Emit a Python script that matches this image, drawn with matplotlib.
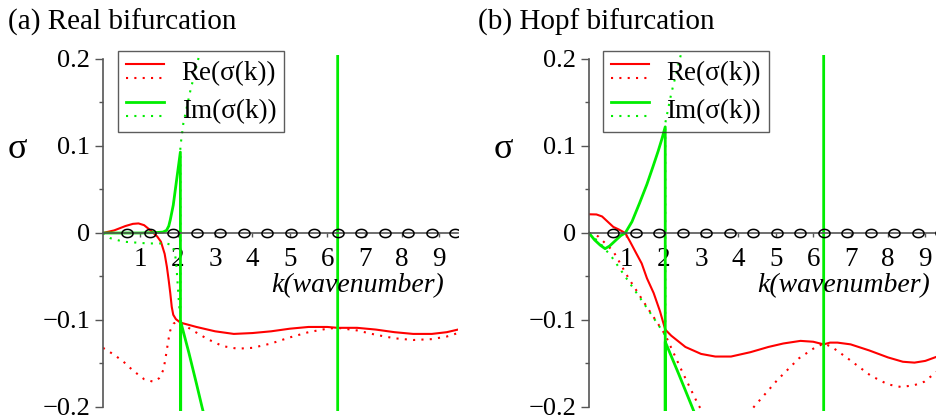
import numpy as np
import matplotlib
matplotlib.use("Agg")
import matplotlib.pyplot as plt
from matplotlib.lines import Line2D
from matplotlib.path import Path
from matplotlib.legend_handler import HandlerBase

plt.rcParams['font.family'] = ['Liberation Serif', 'DejaVu Serif']

# ---- data ----
# zero crossings marked with circles along k axis
k_circles = [0.63, 1.26, 1.88, 2.51, 3.14, 3.77, 4.40, 5.03, 5.65, 6.28,
             6.91, 7.54, 8.17, 8.80, 9.42]

# (a) real bifurcation
a_re_k = [0.0, 0.3, 0.6, 0.8, 0.95, 1.1, 1.3, 1.45, 1.55, 1.65, 1.71, 1.76,
          1.8, 1.84, 1.88, 1.95, 2.07, 2.5, 3.0, 3.5, 4.0, 4.5, 5.0, 5.5, 6.0,
          6.28, 6.8, 7.3, 7.8, 8.3, 8.8, 9.2, 9.5]
a_re = [0.0, 0.003, 0.008, 0.0105, 0.011, 0.009, 0.002, -0.004, -0.010,
        -0.024, -0.039, -0.055, -0.069, -0.085, -0.094, -0.099, -0.103,
        -0.108, -0.113, -0.116, -0.115, -0.113, -0.110, -0.108, -0.108,
        -0.109, -0.109, -0.111, -0.114, -0.116, -0.116, -0.114, -0.111]

a_re2_k = [0.0, 0.3, 0.55, 0.8, 1.1, 1.35, 1.5, 1.62, 1.68, 1.75, 1.8, 1.89,
           1.95, 2.07, 2.4, 2.8, 3.2, 3.6, 4.0, 4.5, 5.0, 5.5, 6.0, 6.28, 6.8,
           7.3, 7.8, 8.3, 8.8, 9.2, 9.5]
a_re2 = [-0.132, -0.140, -0.148, -0.158, -0.168, -0.171, -0.167, -0.157,
         -0.142, -0.123, -0.112, -0.104, -0.103, -0.103, -0.112, -0.122,
         -0.130, -0.133, -0.132, -0.127, -0.120, -0.114, -0.110, -0.109,
         -0.112, -0.117, -0.121, -0.123, -0.122, -0.119, -0.115]

a_im_k = [0.0, 0.5, 1.0, 1.4, 1.6, 1.7, 1.76, 1.8, 1.88, 1.97, 2.07, 2.08,
          2.08, 2.3, 2.5, 2.65, 3.0, 4.0, 5.0, 6.28, 6.28, 7.0, 8.0, 9.5]
a_im = [0.0, 0.0, 0.0, 0.0005, 0.001, 0.003, 0.008, 0.015, 0.032, 0.061,
        0.093, -0.5, -0.102, -0.138, -0.173, -0.200, -0.26, -0.43, -0.60,
        -0.82, 0.90, 1.0, 1.1, 1.2]

a_im2_k = [0.0, 0.2, 0.55, 1.2, 1.7, 1.85, 1.92, 1.96, 2.0, 2.04, 2.07, 2.07,
           2.15, 2.34, 2.55, 2.7]
a_im2 = [0.0, -0.006, -0.010, -0.012, -0.012, -0.014, -0.022, -0.035, -0.060,
         -0.085, -0.09, 0.099, 0.126, 0.164, 0.200, 0.230]

# (b) Hopf bifurcation
b_re_k = [0.0, 0.2, 0.35, 0.5, 0.65, 0.8, 0.97, 1.1, 1.26, 1.41, 1.55, 1.73,
          1.9, 2.04, 2.2, 2.58, 3.0, 3.38, 3.8, 4.32, 4.8, 5.2, 5.66, 6.0,
          6.28, 6.45, 6.65, 7.0, 7.5, 8.0, 8.4, 8.71, 9.0, 9.32, 9.5]
b_re = [0.0215, 0.0213, 0.019, 0.013, 0.007, 0.004, 0.0, -0.010, -0.023,
        -0.035, -0.052, -0.069, -0.090, -0.111, -0.118, -0.131, -0.139,
        -0.142, -0.142, -0.137, -0.131, -0.127, -0.124, -0.125, -0.128,
        -0.126, -0.126, -0.128, -0.135, -0.143, -0.148, -0.149, -0.147,
        -0.142, -0.138]

b_re2_k = [0.0, 0.25, 0.65, 1.06, 1.55, 2.04, 2.49, 2.93, 3.3, 3.7, 4.1, 4.41,
           5.04, 5.62, 6.0, 6.28, 6.5, 6.92, 7.54, 8.0, 8.35, 8.7, 8.97, 9.32,
           9.5]
b_re2 = [0.0, -0.004, -0.021, -0.052, -0.085, -0.117, -0.159, -0.198, -0.222,
         -0.228, -0.218, -0.200, -0.169, -0.144, -0.133, -0.127, -0.131,
         -0.144, -0.164, -0.174, -0.177, -0.175, -0.171, -0.159, -0.152]

b_im_k = [0.0, 0.15, 0.3, 0.43, 0.55, 0.7, 0.85, 0.97, 1.15, 1.35, 1.55,
          1.71, 1.85, 1.95, 2.04, 2.04, 2.04, 2.4, 2.76, 3.5, 6.28, 6.28, 9.5]
b_im = [0.0, -0.008, -0.014, -0.018, -0.015, -0.009, -0.003, 0.0, 0.013,
        0.034, 0.056, 0.076, 0.094, 0.108, 0.122, -0.5, -0.125, -0.162,
        -0.200, -0.28, -0.57, 0.60, 0.90]

b_im2_k = [0.0, 0.3, 0.6, 1.0, 1.5, 2.0, 2.04, 2.04, 2.2, 2.43, 2.6]
b_im2 = [0.0, -0.012, -0.027, -0.052, -0.083, -0.115, -0.118, 0.126, 0.160,
         0.200, 0.230]

RED = '#ff0000'
GREEN = '#00ee00'
AXIS_GRAY = '#555555'
DOTS = (0, (1, 3))


class StackedLines(HandlerBase):
    """Legend handle: solid line above the dotted one."""
    def create_artists(self, legend, orig_handle, xdescent, ydescent,
                       width, height, fontsize, trans):
        out = []
        for h, frac in zip(orig_handle, (0.8, 0.2)):
            y = -ydescent + frac * height
            ln = Line2D([-xdescent, -xdescent + width], [y, y])
            ln.update_from(h)
            ln.set_transform(trans)
            out.append(ln)
        return out


# slightly flattened circle marker like the original
t = np.linspace(0, 2 * np.pi, 41)
ellipse = Path(np.column_stack([1.35 * np.cos(t), np.sin(t)]))


def draw_panel(ax, re_k, re, re2_k, re2, im_k, im, im2_k, im2, leg_x):
    ax.set_xlim(0, 9.5)
    ax.set_ylim(-0.205, 0.205)

    l1, = ax.plot(re_k, re, color=RED, lw=1.5)
    l2, = ax.plot(re2_k, re2, color=RED, lw=1.5, linestyle=DOTS)
    l3, = ax.plot(im_k, im, color=GREEN, lw=2.0)
    l4, = ax.plot(im2_k, im2, color=GREEN, lw=1.5, linestyle=DOTS)
    ax.plot(k_circles, [0] * len(k_circles), linestyle='none', marker=ellipse,
            ms=8, mfc='none', mec='black', mew=1.1, zorder=5)

    # maple style axes: y axis at k=0, k axis through sigma=0
    for s in ('top', 'right'):
        ax.spines[s].set_visible(False)
    ax.spines['bottom'].set_position(('data', 0))
    ax.spines['left'].set_bounds(-0.2, 0.2)
    for s in ('left', 'bottom'):
        ax.spines[s].set_color(AXIS_GRAY)
        ax.spines[s].set_linewidth(1.2)

    ax.set_yticks([-0.2, -0.1, 0, 0.1, 0.2])
    ax.set_yticklabels(['\u22120.2', '\u22120.1', '0', '0.1', '0.2'])
    ax.set_yticks([-0.15, -0.05, 0.05, 0.15], minor=True)
    ax.set_xticks(range(1, 10))
    ax.tick_params(axis='y', which='major', length=6, width=1, pad=3,
                   color=AXIS_GRAY, labelsize=19)
    ax.tick_params(axis='y', which='minor', length=3, width=1, color=AXIS_GRAY)
    ax.tick_params(axis='x', which='major', length=3, width=1, pad=7,
                   color=AXIS_GRAY, labelsize=19.5)
    ax.set_facecolor('none')

    ax.text(9.13, -0.061, 'k(wavenumber)', fontsize=20, style='italic',
            ha='right', va='center')

    leg = ax.legend(handles=[(l1, l2), (l3, l4)],
                    labels=['Re(\u03c3(k))', 'Im(\u03c3(k))'],
                    handler_map={tuple: StackedLines()},
                    loc='upper left', bbox_to_anchor=(leg_x, 1.01),
                    borderaxespad=0, fontsize=19.5, handlelength=1.4,
                    handleheight=0.95, handletextpad=0.65, labelspacing=0.4,
                    borderpad=0.3, fancybox=False)
    leg.get_frame().set_facecolor('none')
    leg.get_frame().set_edgecolor('#333333')
    leg.get_frame().set_linewidth(1.0)


fig = plt.figure(figsize=(9.36, 4.2), dpi=100)
bottom, height = 0.0206, 0.8493
ax1 = fig.add_axes([103 / 936, bottom, 355 / 936, height])
ax2 = fig.add_axes([589 / 936, bottom, 355 / 936, height])

draw_panel(ax1, a_re_k, a_re, a_re2_k, a_re2, a_im_k, a_im, a_im2_k, a_im2, 0.042)
draw_panel(ax2, b_re_k, b_re, b_re2_k, b_re2, b_im_k, b_im, b_im2_k, b_im2, 0.039)

fig.text(8 / 936, 1 - 30 / 420, '(a) Real bifurcation', fontsize=21,
         va='baseline')
fig.text(478 / 936, 1 - 30 / 420, '(b) Hopf bifurcation', fontsize=21,
         va='baseline')
fig.text(17.5 / 936, 1 - 150 / 420, '\u03c3', fontsize=26, ha='center',
         va='center')
fig.text(503 / 936, 1 - 150 / 420, '\u03c3', fontsize=26, ha='center',
         va='center')

fig.savefig('out.png', dpi=100)
